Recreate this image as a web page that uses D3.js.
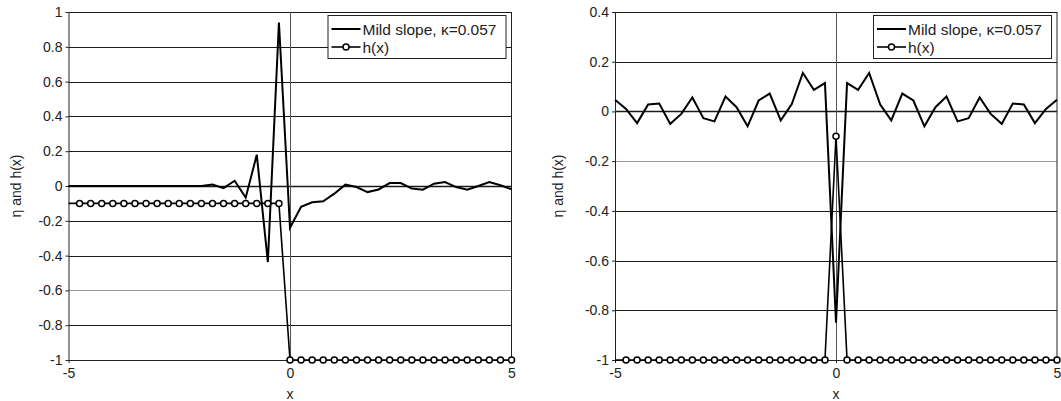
<!DOCTYPE html>
<html>
<head>
<meta charset="utf-8">
<script src="https://cdn.jsdelivr.net/npm/d3@7"></script>
<style>
  body { margin: 0; background: #fff; }
  svg { display: block; }
  text { font-family: Arial, 'Liberation Sans', sans-serif; fill: #222; }
</style>
</head>
<body>
<div id="chart"></div>
<script>
// x grid shared by both panels
let xValues = [
  -5, -4.75, -4.5, -4.25, -4, -3.75, -3.5, -3.25, -3, -2.75, -2.5, -2.25, -2,
  -1.75, -1.5, -1.25, -1, -0.75, -0.5, -0.25, 0, 0.25, 0.5, 0.75, 1, 1.25,
  1.5, 1.75, 2, 2.25, 2.5, 2.75, 3, 3.25, 3.5, 3.75, 4, 4.25, 4.5, 4.75, 5
]

// left panel: step
let etaLeft = [
  0, 0, 0, 0, 0, 0, 0, 0, 0, 0, 0, 0, 0,
  0.008, -0.012, 0.03, -0.067, 0.18, -0.437, 0.94, -0.24, -0.12, -0.094,
  -0.088, -0.044, 0.008, -0.006, -0.035, -0.02, 0.017, 0.017, -0.015, -0.021,
  0.013, 0.023, -0.006, -0.021, 0, 0.023, 0.004, -0.019
]
let hLeft = [
  -0.1, -0.1, -0.1, -0.1, -0.1, -0.1, -0.1, -0.1, -0.1, -0.1,
  -0.1, -0.1, -0.1, -0.1, -0.1, -0.1, -0.1, -0.1, -0.1, -0.1,
  -1, -1, -1, -1, -1, -1, -1, -1, -1, -1, -1,
  -1, -1, -1, -1, -1, -1, -1, -1, -1, -1
]

// right panel: ridge
let etaRight = [
  0.047, 0.01, -0.047, 0.028, 0.032, -0.05, -0.01, 0.056, -0.027, -0.04,
  0.06, 0.017, -0.06, 0.044, 0.072, -0.036, 0.03, 0.155, 0.087, 0.114,
  -0.85,
  0.114, 0.087, 0.155, 0.028, -0.036, 0.072, 0.044, -0.06, 0.017, 0.06,
  -0.04, -0.027, 0.056, -0.01, -0.05, 0.032, 0.028, -0.047, 0.01, 0.047
]
let hRight = [
  -1, -1, -1, -1, -1, -1, -1, -1, -1, -1,
  -1, -1, -1, -1, -1, -1, -1, -1, -1, -1,
  -0.1,
  -1, -1, -1, -1, -1, -1, -1, -1, -1, -1,
  -1, -1, -1, -1, -1, -1, -1, -1, -1, -1
]

let yTicksLeft = [-1, -0.8, -0.6, -0.4, -0.2, 0, 0.2, 0.4, 0.6, 0.8, 1]
let yTicksRight = [-1, -0.8, -0.6, -0.4, -0.2, 0, 0.2, 0.4]
let xTicks = [-5, 0, 5]

let legendLabels = ['Mild slope, \u03ba=0.057', 'h(x)']
let yTitle = '\u03b7 and h(x)'
let xTitle = 'x'

let plotTop = 12
let plotBottom = 360

let svg = d3
  .select('#chart')
  .append('svg')
  .attr('width', 1061)
  .attr('height', 401)

function drawPanel(left, right, yDomain, yTicks, eta, h, lightTick, titleOffset) {
  let g = svg.append('g')

  let xScale = d3.scaleLinear().domain([-5, 5]).range([left, right])
  let yScale = d3.scaleLinear().domain(yDomain).range([plotBottom, plotTop])

  // horizontal gridlines
  g.selectAll('.grid')
    .data(yTicks)
    .enter()
    .append('line')
    .attr('x1', left)
    .attr('x2', right)
    .attr('y1', d => Math.round(yScale(d)) + 0.5)
    .attr('y2', d => Math.round(yScale(d)) + 0.5)
    .attr('stroke', d => (d === lightTick ? '#999' : '#1a1a1a'))
    .attr('stroke-width', d => (d === 0 ? 1.6 : 1))

  // right border
  g.append('line')
    .attr('x1', right)
    .attr('x2', right)
    .attr('y1', plotTop)
    .attr('y2', plotBottom)
    .attr('stroke', '#222')

  // vertical line at x = 0
  g.append('line')
    .attr('x1', Math.round(xScale(0)) + 0.5)
    .attr('x2', Math.round(xScale(0)) + 0.5)
    .attr('y1', plotTop)
    .attr('y2', plotBottom)
    .attr('stroke', '#555')
    .attr('stroke-width', 1)

  let yAxis = d3
    .axisLeft(yScale)
    .tickValues(yTicks)
    .tickFormat(d => String(d))
    .tickSize(3)
    .tickSizeOuter(0)
    .tickPadding(3)
  g.append('g')
    .attr('class', 'axis y-axis')
    .attr('transform', 'translate(' + left + ',0)')
    .call(yAxis)

  let xAxis = d3
    .axisBottom(xScale)
    .tickValues(xTicks)
    .tickFormat(d => String(d))
    .tickSize(3)
    .tickSizeOuter(0)
    .tickPadding(5)
  g.append('g')
    .attr('class', 'axis x-axis')
    .attr('transform', 'translate(0,' + plotBottom + ')')
    .call(xAxis)

  g.selectAll('.axis path, .axis line').attr('stroke', '#222')
  g.selectAll('.axis text')
    .attr('font-size', 14)
    .attr('fill', '#222')
    .attr('font-family', "Arial, 'Liberation Sans', sans-serif")

  // axis titles
  g.append('text')
    .attr('x', (left + right) / 2)
    .attr('y', 399)
    .attr('text-anchor', 'middle')
    .attr('font-size', 14)
    .text(xTitle)

  g.append('text')
    .attr('transform', 'translate(' + (left - titleOffset) + ',' + (plotTop + plotBottom) / 2 + ') rotate(-90)')
    .attr('text-anchor', 'middle')
    .attr('font-size', 14)
    .text(yTitle)

  let points = xValues.map((x, i) => ({ x: x, eta: eta[i], h: h[i] }))

  let etaLine = d3
    .line()
    .x(d => xScale(d.x))
    .y(d => yScale(d.eta))
  let hLine = d3
    .line()
    .x(d => xScale(d.x))
    .y(d => yScale(d.h))

  g.append('path')
    .datum(points)
    .attr('d', etaLine)
    .attr('fill', 'none')
    .attr('stroke', '#000')
    .attr('stroke-width', 2)

  g.append('path')
    .datum(points)
    .attr('d', hLine)
    .attr('fill', 'none')
    .attr('stroke', '#000')
    .attr('stroke-width', 1.6)

  g.selectAll('.marker')
    .data(points.filter(d => d.x > -5))
    .enter()
    .append('circle')
    .attr('cx', d => xScale(d.x))
    .attr('cy', d => yScale(d.h))
    .attr('r', 3)
    .attr('fill', '#fff')
    .attr('stroke', '#000')
    .attr('stroke-width', 1.5)

  // legend
  let lx = right - 184
  let legend = g.append('g')
  legend
    .append('rect')
    .attr('x', lx + 0.5)
    .attr('y', 15.5)
    .attr('width', 178)
    .attr('height', 43)
    .attr('fill', '#fff')
    .attr('stroke', '#222')

  legend
    .append('line')
    .attr('x1', lx + 4)
    .attr('x2', lx + 33)
    .attr('y1', 29)
    .attr('y2', 29)
    .attr('stroke', '#000')
    .attr('stroke-width', 2)
  legend
    .append('line')
    .attr('x1', lx + 4)
    .attr('x2', lx + 33)
    .attr('y1', 47)
    .attr('y2', 47)
    .attr('stroke', '#000')
    .attr('stroke-width', 1.6)
  legend
    .append('circle')
    .attr('cx', lx + 18.5)
    .attr('cy', 47)
    .attr('r', 3)
    .attr('fill', '#fff')
    .attr('stroke', '#000')
    .attr('stroke-width', 1.5)

  legend
    .selectAll('.legend-text')
    .data(legendLabels)
    .enter()
    .append('text')
    .attr('x', lx + 35)
    .attr('y', (d, i) => 34.5 + i * 18)
    .attr('font-size', 15.5)
    .text(d => d)
}

drawPanel(68.5, 511.5, [-1, 1], yTicksLeft, etaLeft, hLeft, -0.6, 48)
drawPanel(615, 1057, [-1, 0.4], yTicksRight, etaRight, hRight, -0.2, 52)
</script>
</body>
</html>
